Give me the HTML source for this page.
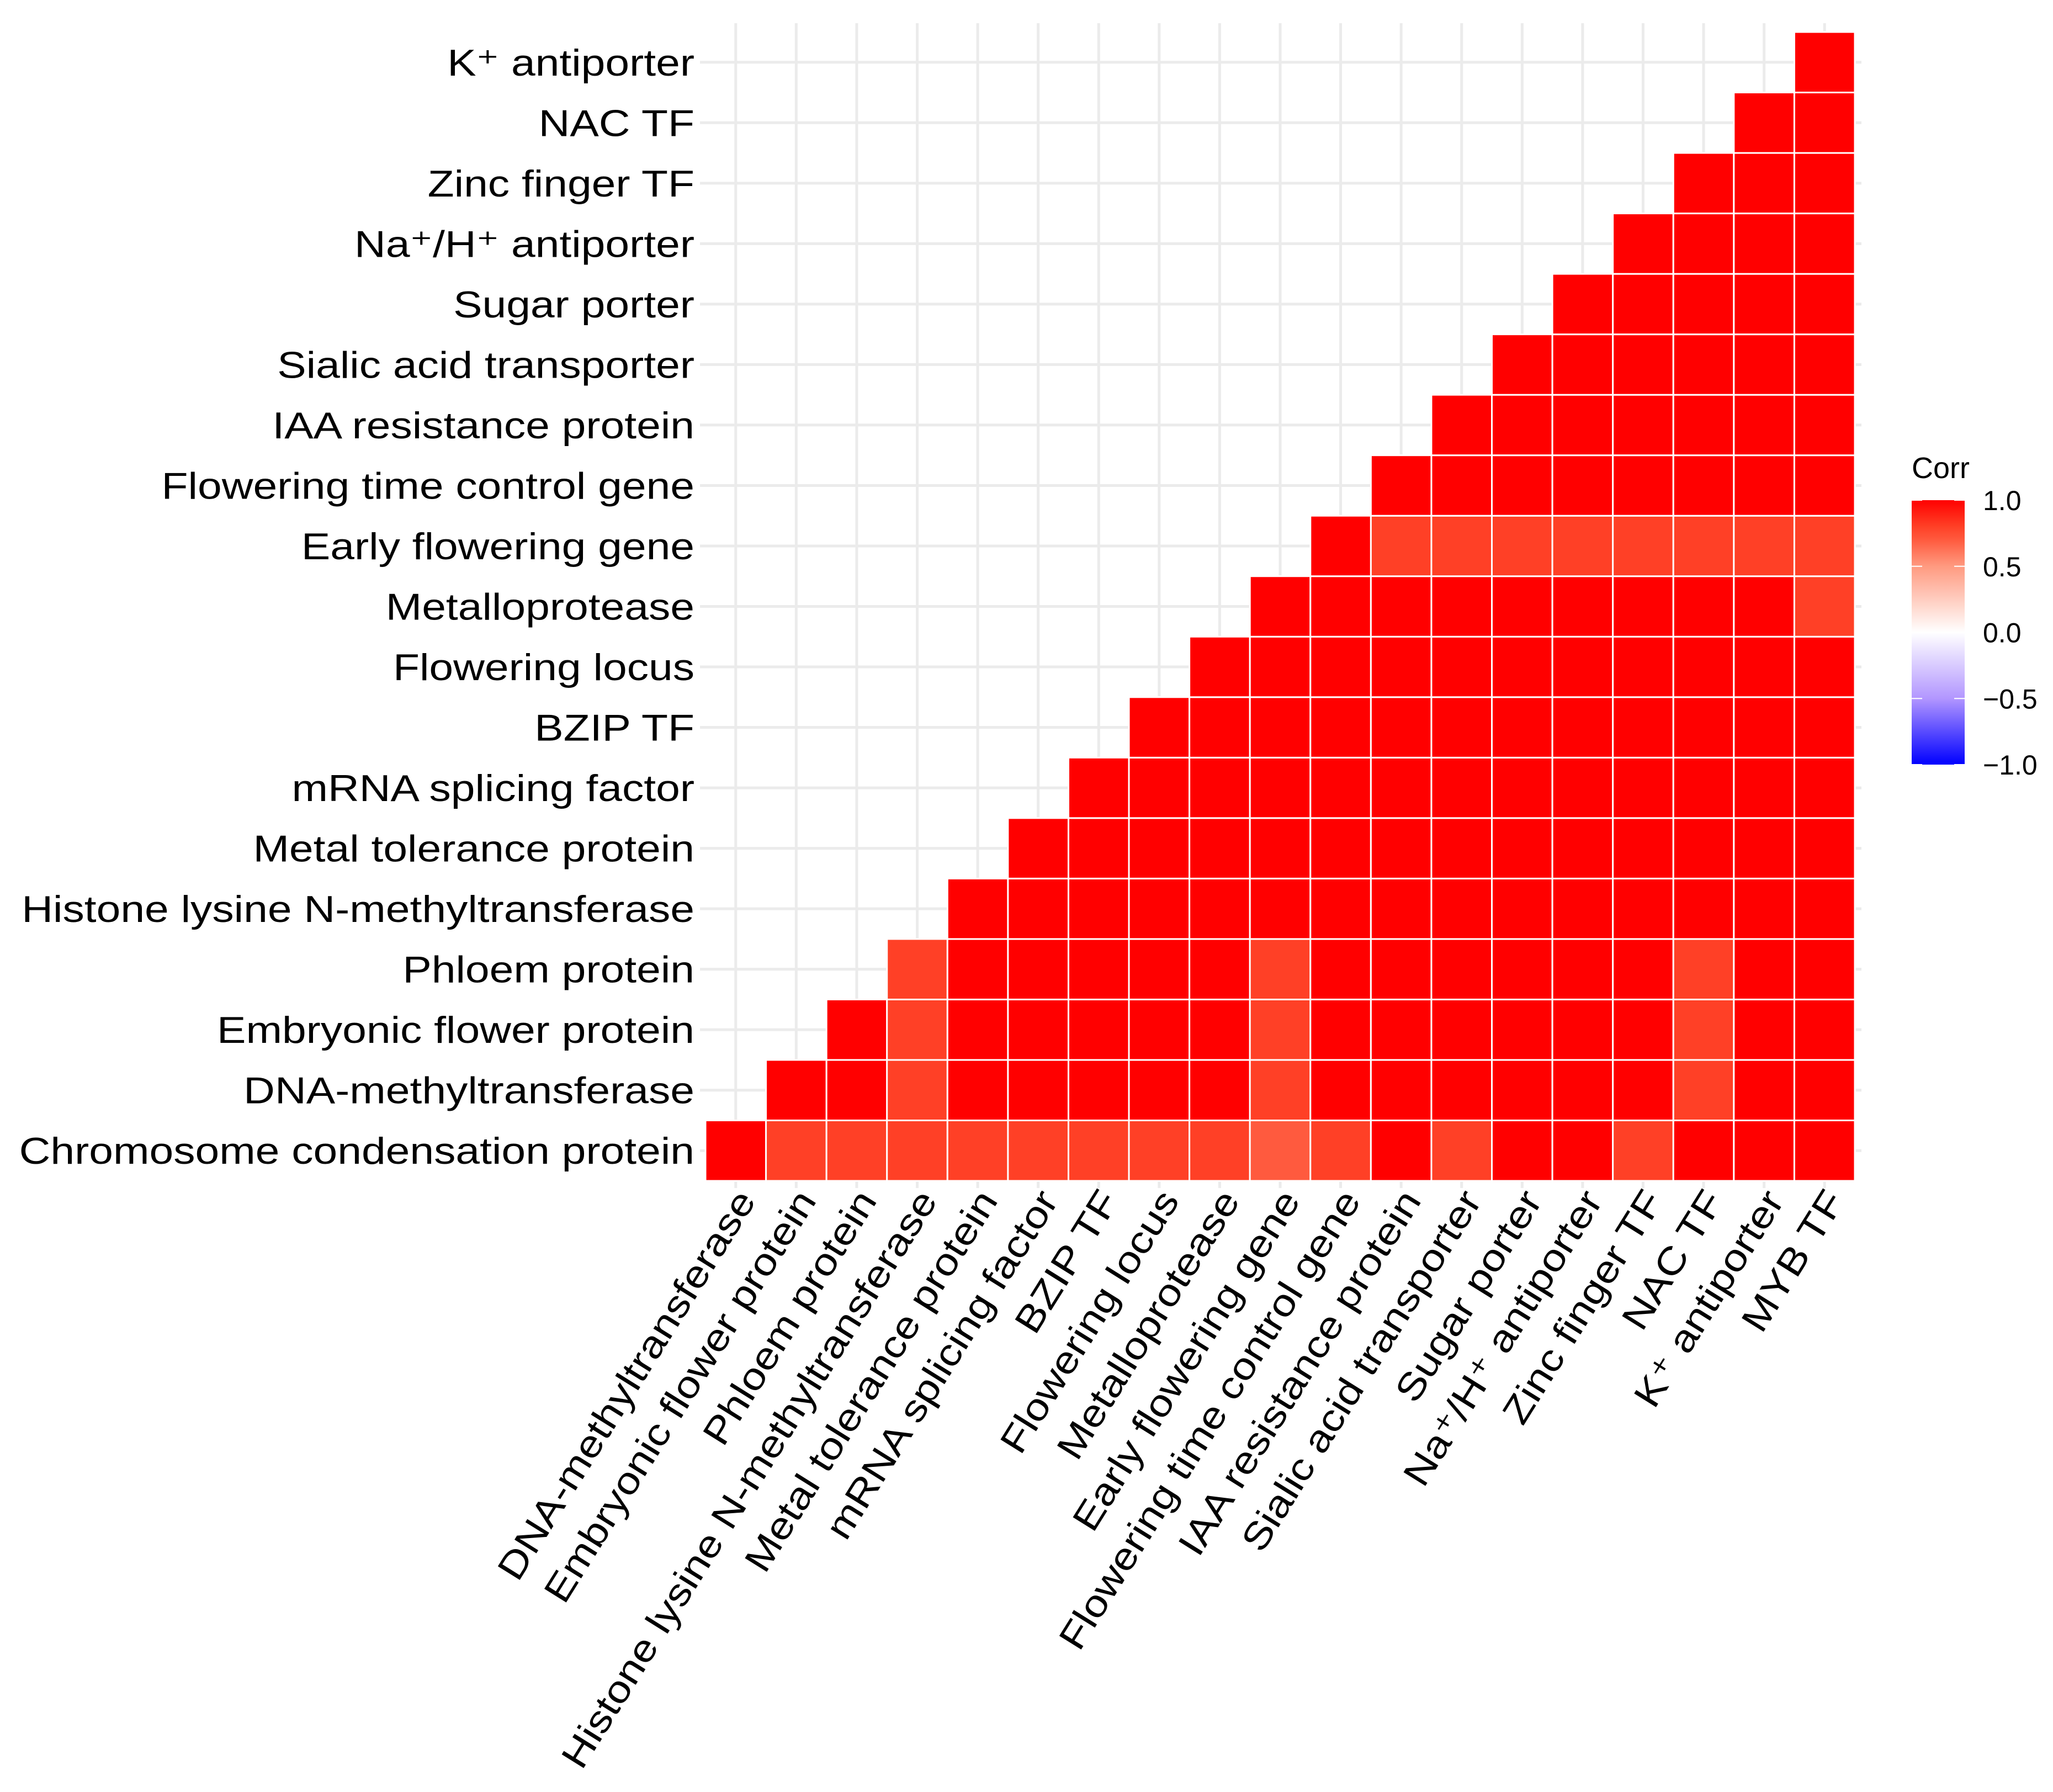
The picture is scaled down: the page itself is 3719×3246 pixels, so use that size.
<!DOCTYPE html>
<html><head><meta charset="utf-8"><style>
html,body{margin:0;padding:0;background:#fff;}
svg{display:block;font-family:"Liberation Sans",Arial,sans-serif;}
</style></head><body>
<svg id="chart" width="3719" height="3246" viewBox="0 0 3719 3246" xmlns="http://www.w3.org/2000/svg">
<rect x="0" y="0" width="3719" height="3246" fill="#fff"/>
<g id="grid"></g><g id="tiles"></g><g id="ylabels"></g><g id="xlabels"></g><g id="legend"></g>
</svg>
<script>
const genes = ["Chromosome condensation protein","DNA-methyltransferase","Embryonic flower protein","Phloem protein","Histone lysine N-methyltransferase","Metal tolerance protein","mRNA splicing factor","BZIP TF","Flowering locus","Metalloprotease","Early flowering gene","Flowering time control gene","IAA resistance protein","Sialic acid transporter","Sugar porter","Na\u207A/H\u207A antiporter","Zinc finger TF","NAC TF","K\u207A antiporter","MYB TF"];
const rowLabels = genes.slice(0,19);
const colLabels = genes.slice(1);
// corrValues[r][c] for c>=r (row r = gene r, column c = gene c+1)
const corrRow0 = [1,0.8,0.8,0.8,0.8,0.8,0.8,0.8,0.8,0.7,0.8,1,0.8,1,1,0.8,1,1,1];
const corrRow1 = [1,1,0.8,1,1,1,1,1,0.8,1,1,1,1,1,1,0.8,1,1];
const corrRow2 = [1,0.8,1,1,1,1,1,0.8,1,1,1,1,1,1,0.8,1,1];
const corrRow3 = [0.8,1,1,1,1,1,0.8,1,1,1,1,1,1,0.8,1,1];
const corrRow4 = [1,1,1,1,1,1,1,1,1,1,1,1,1,1,1];
const corrRow5 = [1,1,1,1,1,1,1,1,1,1,1,1,1,1];
const corrRow6 = [1,1,1,1,1,1,1,1,1,1,1,1,1];
const corrRow7 = [1,1,1,1,1,1,1,1,1,1,1,1];
const corrRow8 = [1,1,1,1,1,1,1,1,1,1,1];
const corrRow9 = [1,1,1,1,1,1,1,1,1,0.8];
const corrRow10 = [1,0.8,0.8,0.8,0.8,0.8,0.8,0.8,0.8];
const corrRow11 = [1,1,1,1,1,1,1,1];
const corrRow12 = [1,1,1,1,1,1,1];
const corrRow13 = [1,1,1,1,1,1];
const corrRow14 = [1,1,1,1,1];
const corrRow15 = [1,1,1,1];
const corrRow16 = [1,1,1];
const corrRow17 = [1,1];
const corrRow18 = [1];
const corrRows = [corrRow0,corrRow1,corrRow2,corrRow3,corrRow4,corrRow5,corrRow6,corrRow7,corrRow8,corrRow9,corrRow10,corrRow11,corrRow12,corrRow13,corrRow14,corrRow15,corrRow16,corrRow17,corrRow18];
const legendTicks = [1.0,0.5,0.0,-0.5,-1.0];
const legendTickLabels = ["1.0","0.5","0.0","\u22120.5","\u22121.0"];

const NS="http://www.w3.org/2000/svg";
const X0=1278, X1=3360, Y0=58, Y1=2139, N=19;
const cw=(X1-X0)/N, ch=(Y1-Y0)/N;
function xPos(c){return X0+c*cw;}
function yPos(r){return Y1-(r+1)*ch;}
function mk(tag,attrs,parent){const e=document.createElementNS(NS,tag);for(const k in attrs)e.setAttribute(k,attrs[k]);parent.appendChild(e);return e;}
function colorFor(v){
  const stops=[[-1,[0,0,255]],[-0.5,[178,150,255]],[0,[255,255,255]],[0.5,[255,154,128]],[0.7,[255,90,62]],[0.8,[255,64,38]],[1,[255,0,0]]];
  for(let i=0;i<stops.length-1;i++){const a=stops[i],b=stops[i+1];if(v<=b[0]){const t=(v-a[0])/(b[0]-a[0]);const c=a[1].map((x,j)=>Math.round(x+(b[1][j]-x)*t));return `rgb(${c[0]},${c[1]},${c[2]})`;}}
  return "rgb(255,0,0)";
}
const grid=document.getElementById('grid');
for(let c=0;c<N;c++){
  const gl=mk('line',{x1:xPos(c)+cw/2,x2:xPos(c)+cw/2,y1:42,y2:2152,stroke:'#ebebeb','stroke-width':5},grid);
  
  
}
for(let r=0;r<N;r++){
  const gl=mk('line',{x1:1268,x2:3372,y1:yPos(r)+ch/2,y2:yPos(r)+ch/2,stroke:'#ebebeb','stroke-width':5},grid);
  
  
}
const tiles=document.getElementById('tiles');
corrRows.forEach((row,r)=>{row.forEach((v,i)=>{const c=r+i;
  const t=mk('rect',{x:xPos(c),y:yPos(r),width:cw,height:ch,fill:colorFor(v),stroke:'#fff','stroke-width':3},tiles);
  
  
});});
const yl=document.getElementById('ylabels');
const ylTexts=[];
rowLabels.forEach((s,r)=>{
  const t=mk('text',{x:0,y:0,'text-anchor':'end','font-size':68,fill:'#000'},yl);
  t.textContent=s;
  
  
  ylTexts.push([t,yPos(r)+ch/2+24]);
});
const ref=ylTexts[4][0].getComputedTextLength();
const k=ref>0?1219/ref:1;
ylTexts.forEach(([t,y])=>t.setAttribute('transform',`translate(1258,${y}) scale(${k},1)`));
const xl=document.getElementById('xlabels');
colLabels.forEach((s,c)=>{
  const t=mk('text',{x:0,y:0,'text-anchor':'end','font-size':68,fill:'#000',dy:'0.35em'},xl);
  t.textContent=s;
  
  
  const cx=xPos(c)+cw/2+18;
  t.setAttribute('transform',`translate(${cx},2162) rotate(-58) scale(${k},1)`);
});
const lg=document.getElementById('legend');
const title=mk('text',{x:3463,y:866,'font-size':54,fill:'#000'},lg);
title.textContent='Corr';


const defs=mk('defs',{},lg);
const grad=mk('linearGradient',{id:'cg',x1:0,y1:0,x2:0,y2:1},defs);
for(let i=0;i<=20;i++){const v=1-i/10;mk('stop',{offset:(i/20),'stop-color':colorFor(v)},grad);}
const LT=906, LB=1385;
function legY(v){return LT+(1-v)/2*(LB-LT);}
const bar=mk('rect',{x:3463,y:LT,width:96,height:LB-LT,fill:'url(#cg)'},lg);


legendTicks.forEach((v,i)=>{
  const y=legY(v);
  mk('line',{x1:3463,x2:3482,y1:y,y2:y,stroke:'#fff','stroke-width':2},lg);
  mk('line',{x1:3540,x2:3559,y1:y,y2:y,stroke:'#fff','stroke-width':2},lg);
  const t=mk('text',{x:3592,y:y+18,'font-size':50,fill:'#000'},lg);
  t.textContent=legendTickLabels[i];
  
  
});
</script>
</body></html>
